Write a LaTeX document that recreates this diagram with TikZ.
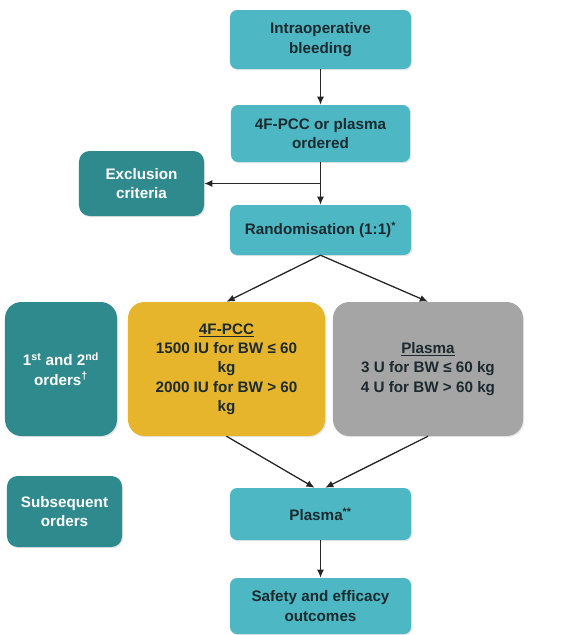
\documentclass[tikz,border=0pt]{standalone}
\usepackage{fontspec}
\setmainfont{Liberation Sans}
\usepackage{xcolor}
\usetikzlibrary{
  arrows.meta,
  positioning,
  calc,
  shadows
}

\definecolor{tealL}{HTML}{4DB8C3}
\definecolor{tealD}{HTML}{2F8A8E}
\definecolor{pccY}{HTML}{E6B52B}
\definecolor{plasG}{HTML}{A5A5A5}
\definecolor{txtD}{HTML}{1C2A30}

\begin{document}
\begin{tikzpicture}[
    x=0.03cm, y=-0.03cm,
    box/.style={rounded corners=6pt, align=center, inner sep=2pt,
                font=\fontsize{13}{16.5}\selectfont\bfseries,
                drop shadow={opacity=0.2, shadow xshift=1pt, shadow yshift=-1pt}},
    flow/.style={box, fill=tealL, text=txtD, minimum width=5.43cm},
    side/.style={box, fill=tealD, text=white, rounded corners=9pt},
    arm/.style={box, text=txtD, rounded corners=14pt,
                minimum height=4.02cm},
    arr/.style={-{Latex[length=7pt, width=6pt]}, line width=1.1pt, black!85},
  ]

  \useasboundingbox (0,0) rectangle (570,635);

  % ---- Main flow ----
  \node[flow, minimum height=1.77cm] (bleed) at (320.5,39.5)
    {Intraoperative\\bleeding};
  \node[flow, minimum height=1.71cm, minimum width=5.37cm] (order) at (320.5,133.5)
    {4F-PCC or plasma\\ordered};
  \node[flow, minimum height=1.5cm] (rand) at (320.5,230)
    {Randomisation (1:1)\textsuperscript{*}};

  % ---- Treatment arms ----
  \node[arm, fill=pccY, minimum width=5.91cm] (pcc) at (226.5,369)
    {\underline{4F-PCC}\\1500 IU for BW ≤ 60\\kg\\2000 IU for BW > 60\\kg};
  \node[arm, fill=plasG, minimum width=5.7cm] (plas) at (428,369)
    {\underline{Plasma}\\3 U for BW ≤ 60 kg\\4 U for BW > 60 kg};

  \node[flow, minimum height=1.56cm] (plasma2) at (320.5,514)
    {Plasma\textsuperscript{**}};
  \node[flow, minimum height=1.68cm] (safety) at (320.5,606)
    {Safety and efficacy\\outcomes};

  % ---- Side labels ----
  \node[side, minimum width=3.75cm, minimum height=1.95cm] (excl) at (141.5,183.5)
    {Exclusion\\criteria};
  \node[side, minimum width=3.36cm, minimum height=4.02cm, rounded corners=14pt]
    (first) at (61,369)
    {1\textsuperscript{st} and 2\textsuperscript{nd}\\orders\textsuperscript{†}};
  \node[side, minimum width=3.45cm, minimum height=2.13cm] (subseq) at (64.5,511.5)
    {Subsequent\\orders};

  % ---- Arrows ----
  \draw[arr] (bleed) -- (order);
  \draw[arr] (order) -- (rand);
  \draw[arr] (order.south |- excl.east) -- (excl.east);
  \draw[arr] (rand.south) -- (pcc.north);
  \draw[arr] (rand.south) -- (plas.north);
  \draw[arr] (pcc.south) -- ([xshift=-5pt]plasma2.north);
  \draw[arr] (plas.south) -- ([xshift=4pt]plasma2.north);
  \draw[arr] (plasma2) -- (safety);

\end{tikzpicture}
\end{document}
